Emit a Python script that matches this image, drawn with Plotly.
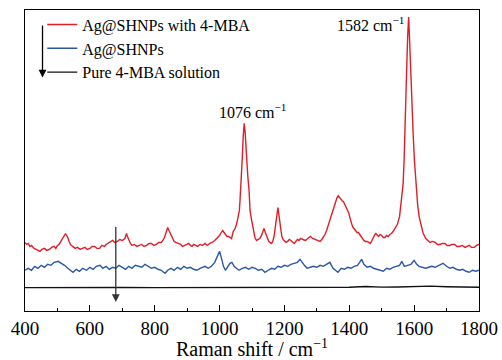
import plotly.graph_objects as go

# ---------------- data ----------------
series_names = ["Ag@SHNPs with 4-MBA", "Ag@SHNPs", "Pure 4-MBA solution"]

red_x = [400, 405, 410, 415, 420, 428, 435, 441, 446, 452, 460, 467, 475, 482, 490, 495, 500, 505, 510, 514,
         518, 521, 525, 528, 532, 536, 540, 547, 555, 562, 570, 577, 585, 592, 600, 607, 615, 622, 630, 637,
         645, 650, 655, 662, 670, 677, 685, 692, 700, 704, 708, 711, 713, 716, 720, 725, 730, 737, 745, 752,
         760, 767, 775, 782, 790, 797, 805, 812, 820, 825, 830, 835, 840, 844, 848, 852, 856, 860, 865, 872,
         880, 886, 893, 899, 905, 910, 915, 920, 925, 932, 940, 947, 955, 962, 970, 977, 985, 992, 1000, 1005,
         1010, 1014, 1018, 1023, 1028, 1032, 1037, 1042, 1048, 1053, 1058, 1061, 1063, 1065, 1068, 1070, 1073, 1076, 1079, 1081,
         1084, 1087, 1091, 1094, 1098, 1101, 1105, 1109, 1114, 1120, 1124, 1128, 1133, 1137, 1141, 1145, 1152, 1160, 1164, 1168,
         1171, 1174, 1177, 1180, 1183, 1186, 1189, 1192, 1196, 1200, 1205, 1210, 1215, 1220, 1225, 1230, 1235, 1240, 1245, 1250,
         1257, 1265, 1272, 1280, 1287, 1295, 1302, 1310, 1315, 1320, 1325, 1330, 1335, 1340, 1345, 1350, 1354, 1358, 1362, 1366,
         1370, 1374, 1378, 1382, 1386, 1390, 1394, 1398, 1402, 1405, 1409, 1412, 1416, 1420, 1424, 1428, 1432, 1436, 1440, 1445,
         1450, 1455, 1460, 1465, 1470, 1475, 1479, 1482, 1486, 1490, 1495, 1500, 1505, 1510, 1515, 1520, 1525, 1530, 1535, 1540,
         1548, 1555, 1561, 1566, 1569, 1572, 1575, 1577, 1580, 1583, 1585, 1588, 1591, 1594, 1597, 1601, 1606, 1611, 1616, 1622,
         1628, 1636, 1642, 1649, 1657, 1665, 1672, 1680, 1687, 1695, 1702, 1710, 1717, 1725, 1732, 1740, 1748, 1757, 1763, 1770,
         1777, 1785, 1792, 1800]
red_y = [69, 67, 68, 65, 66, 63, 62, 61, 60, 62, 63, 61, 62, 64, 65, 63, 66, 67, 70, 72,
         75, 77, 78, 76, 74, 70, 67, 65, 63, 64, 62, 63, 64, 62, 63, 65, 65, 63, 63, 66,
         65, 67, 68, 70, 71, 69, 70, 72, 71, 72, 73, 76, 78, 75, 71, 68, 66, 67, 65, 66,
         67, 65, 66, 68, 68, 66, 67, 69, 69, 71, 74, 79, 84, 81, 78, 75, 72, 70, 69, 68,
         67, 65, 66, 67, 68, 66, 65, 67, 66, 65, 67, 66, 68, 66, 68, 69, 71, 73, 76, 79,
         81, 79, 77, 75, 75, 74, 73, 80, 83, 88, 96, 101, 111, 121, 139, 154, 176, 189, 179, 166,
         154, 136, 121, 101, 93, 88, 79, 74, 71, 72, 73, 75, 79, 83, 79, 75, 70, 68, 70, 75,
         81, 89, 97, 104, 97, 89, 82, 75, 72, 71, 69, 70, 72, 71, 69, 68, 70, 72, 71, 73,
         72, 71, 73, 75, 73, 72, 71, 70, 72, 74, 77, 81, 86, 91, 96, 101, 106, 111, 114, 116,
         114, 113, 111, 110, 107, 105, 102, 99, 94, 89, 86, 84, 82, 81, 79, 79, 77, 75, 73, 71,
         70, 70, 69, 68, 71, 75, 77, 78, 76, 75, 77, 76, 74, 74, 76, 75, 77, 78, 80, 83,
         87, 95, 111, 128, 151, 178, 211, 244, 276, 296, 281, 251, 221, 196, 178, 151, 128, 106, 94, 85,
         78, 73, 71, 69, 70, 69, 67, 67, 68, 68, 66, 66, 67, 67, 65, 65, 66, 64, 65, 66,
         64, 64, 66, 67]

blue_x = [400, 410, 420, 430, 440, 450, 460, 470, 480, 490, 502, 512, 522, 532, 540, 548, 558, 568, 578, 590,
          600, 610, 620, 631, 640, 650, 660, 670, 680, 690, 700, 710, 720, 730, 740, 750, 760, 770, 780, 790,
          800, 810, 820, 832, 840, 850, 860, 870, 880, 890, 900, 910, 920, 930, 940, 955, 965, 975, 985, 993,
          1000, 1006, 1012, 1018, 1025, 1032, 1038, 1045, 1052, 1060, 1070, 1080, 1090, 1100, 1110, 1120, 1130, 1140, 1150, 1160,
          1170, 1180, 1190, 1200, 1210, 1220, 1230, 1240, 1248, 1256, 1264, 1270, 1280, 1290, 1300, 1310, 1320, 1330, 1340, 1350,
          1358, 1365, 1375, 1385, 1395, 1405, 1415, 1425, 1432, 1438, 1445, 1455, 1465, 1475, 1485, 1495, 1505, 1515, 1525, 1535,
          1545, 1555, 1562, 1570, 1580, 1590, 1600, 1608, 1615, 1625, 1635, 1645, 1655, 1665, 1675, 1689, 1700, 1710, 1720, 1730,
          1741, 1750, 1760, 1770, 1780, 1790, 1800]
blue_y = [41, 43, 41, 45, 43, 46, 44, 47, 46, 49, 50, 48, 46, 43, 41, 39, 42, 40, 43, 41,
          44, 42, 45, 46, 43, 45, 42, 44, 43, 46, 44, 42, 45, 43, 46, 45, 44, 47, 45, 43,
          44, 42, 41, 38, 41, 43, 41, 44, 42, 45, 43, 44, 42, 41, 43, 45, 43, 45, 49, 54,
          60, 53, 45, 41, 45, 48, 49, 45, 43, 41, 43, 44, 42, 44, 43, 41, 42, 39, 41, 43,
          42, 45, 44, 46, 45, 47, 48, 49, 52, 48, 45, 43, 44, 45, 44, 46, 45, 47, 49, 43,
          41, 39, 43, 42, 44, 43, 45, 46, 49, 52, 47, 44, 45, 43, 42, 41, 40, 43, 42, 44,
          45, 46, 50, 45, 46, 47, 51, 47, 45, 44, 43, 44, 45, 44, 46, 48, 45, 43, 44, 42,
          41, 42, 40, 39, 41, 40, 41]

black_x = [400, 500, 600, 700, 800, 900, 1000, 1100, 1200, 1300, 1400, 1450, 1500, 1550, 1600, 1650, 1700, 1750, 1800]
black_y = [23.5, 23.8, 23.6, 23.7, 23.5, 23.6, 23.7, 23.8, 23.6, 23.7, 23.9, 24.6, 24.0, 24.2, 24.6, 25.0, 24.4, 24.0, 23.9]

peak_positions = [1076, 1582]
x_tick_values = [400, 600, 800, 1000, 1200, 1400, 1600, 1800]

# ---------------- figure ----------------
FONT = '"Liberation Serif", "Times New Roman", Times, serif'
colors = ["#e01e28", "#2a56a6", "#111111"]

fig = go.Figure()
for name, xs, ys, c in zip(series_names, [red_x, blue_x, black_x], [red_y, blue_y, black_y], colors):
    fig.add_trace(go.Scatter(x=xs, y=ys, mode="lines", name=name,
                             line=dict(color=c, width=1.4)))

fig.update_layout(
    width=502, height=360,
    margin=dict(l=25, r=23, t=8, b=49),
    paper_bgcolor="white", plot_bgcolor="white",
    font=dict(family=FONT, color="black", size=16),
    showlegend=True,
    legend=dict(x=0.038, y=1.008, xanchor="left", yanchor="top",
                bgcolor="rgba(0,0,0,0)", borderwidth=0,
                font=dict(family=FONT, size=16, color="black"),
                tracegroupgap=0, itemwidth=30),
    xaxis=dict(range=[400, 1800], tickvals=x_tick_values, automargin=False,
               ticks="inside", ticklen=6, tickwidth=1, tickcolor="black",
               minor=dict(dtick=100, ticks="inside", ticklen=3, tickwidth=1, tickcolor="black"),
               showline=True, linecolor="black", linewidth=1.3, mirror=True,
               showgrid=False, zeroline=False,
               tickfont=dict(family=FONT, size=19, color="black"),
               title=dict(text="Raman shift / cm<sup>\u22121</sup>",
                          font=dict(family=FONT, size=20, color="black"), standoff=2)),
    yaxis=dict(range=[0, 303], showticklabels=False, ticks="", automargin=False,
               showline=True, linecolor="black", linewidth=1.3, mirror=True,
               showgrid=False, zeroline=False),
)

# peak labels
fig.add_annotation(x=peak_positions[0] + 27, y=201, text=f"{peak_positions[0]} cm<sup>\u22121</sup>",
                   showarrow=False, font=dict(family=FONT, size=16, color="black"),
                   xanchor="center", yanchor="middle")
fig.add_annotation(x=peak_positions[1] - 118, y=289, text=f"{peak_positions[1]} cm<sup>\u22121</sup>",
                   showarrow=False, font=dict(family=FONT, size=16, color="black"),
                   xanchor="center", yanchor="middle")

# arrows
fig.add_annotation(x=454, y=235, ax=454, ay=289, xref="x", yref="y", axref="x", ayref="y",
                   text="", showarrow=True, arrowhead=2, arrowsize=1.2, arrowwidth=1.3, arrowcolor="black")
fig.add_annotation(x=680, y=9, ax=680, ay=86, xref="x", yref="y", axref="x", ayref="y",
                   text="", showarrow=True, arrowhead=2, arrowsize=1.2, arrowwidth=1.3, arrowcolor="#333333")

fig.write_html("out.html")
